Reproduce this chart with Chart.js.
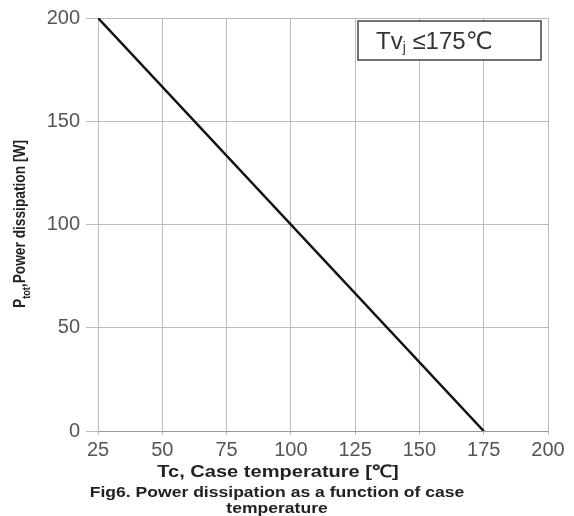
<!DOCTYPE html>
<html>
<head>
<meta charset="utf-8">
<script src="https://cdn.jsdelivr.net/npm/chart.js@4"></script>
<style>
  html, body { margin: 0; padding: 0; background: #fff; }
  #wrap { width: 574px; height: 516px; }
</style>
</head>
<body>
<div id="wrap"><canvas id="powerChart" width="574" height="516"></canvas></div>
<script>
// derating curve
const caseTemp = [25, 175];
const powerDiss = [200, 0];
const xTicks = [25, 50, 75, 100, 125, 150, 175, 200];
const yTicks = [0, 50, 100, 150, 200];

const yTitle = ['P', 'tot', ',Power dissipation [W]'];
const xTitle = 'Tc, Case temperature [\u2103]';
const caption = ['Fig6. Power dissipation as a function of case', 'temperature'];
const noteText = ['Tv', 'j', ' \u2264175\u2103'];

const tickFont = { family: 'Liberation Sans, Arial, sans-serif', size: 20 };

// fills text centred on cx, stretched sideways by sx
function wideText(ctx, txt, cx, y, sx) {
  ctx.save();
  ctx.translate(cx, y);
  ctx.scale(sx, 1);
  ctx.textAlign = 'center';
  ctx.fillText(txt, 0, 0);
  ctx.restore();
}

// draws the axis titles, the caption and the boxed note
const textPlugin = {
  id: 'textPlugin',
  afterDraw(chart) {
    const ctx = chart.ctx;
    ctx.save();

    // y title with subscript, rotated
    const big = 'bold 15px "Liberation Sans", sans-serif';
    const small = 'bold 10px "Liberation Sans", sans-serif';
    ctx.font = big;
    const w0 = ctx.measureText(yTitle[0]).width;
    const w2 = ctx.measureText(yTitle[2]).width;
    ctx.font = small;
    const w1 = ctx.measureText(yTitle[1]).width;
    const total = w0 + w1 + w2;
    const squeeze = 168 / total;
    ctx.translate(25, 224);
    ctx.rotate(-Math.PI / 2);
    ctx.scale(squeeze, 1.15);
    let x = -total / 2;
    ctx.fillStyle = '#222';
    ctx.textBaseline = 'alphabetic';
    ctx.font = big;
    ctx.fillText(yTitle[0], x, 0);
    x += w0;
    ctx.font = small;
    ctx.fillText(yTitle[1], x, 4);
    x += w1;
    ctx.font = big;
    ctx.fillText(yTitle[2], x, 0);
    ctx.restore();

    ctx.save();
    ctx.fillStyle = '#222';
    ctx.textBaseline = 'alphabetic';
    ctx.font = 'bold 17px "Liberation Sans", Arial, sans-serif';
    wideText(ctx, xTitle, 278, 477, 1.18);
    ctx.font = 'bold 15px "Liberation Sans", Arial, sans-serif';
    wideText(ctx, caption[0], 277, 497, 1.17);
    wideText(ctx, caption[1], 277, 513, 1.17);
    ctx.restore();

    // note box in top-right corner
    ctx.save();
    const bx = 358, by = 21, bw = 183, bh = 39;
    ctx.fillStyle = '#fff';
    ctx.fillRect(bx, by, bw, bh);
    ctx.strokeStyle = '#444';
    ctx.lineWidth = 1.5;
    ctx.strokeRect(bx, by, bw, bh);
    ctx.fillStyle = '#333';
    ctx.textBaseline = 'alphabetic';
    let tx = 376;
    ctx.font = '24px "Liberation Sans", Arial, sans-serif';
    ctx.fillText(noteText[0], tx, 49);
    tx += ctx.measureText(noteText[0]).width;
    ctx.font = '14px "Liberation Sans", Arial, sans-serif';
    ctx.fillText(noteText[1], tx, 52);
    tx += ctx.measureText(noteText[1]).width;
    ctx.font = '24px "Liberation Sans", "DejaVu Sans", sans-serif';
    ctx.fillText(noteText[2], tx, 49);
    ctx.restore();
  }
};

new Chart(document.getElementById('powerChart'), {
  type: 'scatter',
  data: {
    datasets: [{
      label: 'Ptot',
      data: caseTemp.map((t, i) => ({ x: t, y: powerDiss[i] })),
      showLine: true,
      borderColor: '#111',
      borderWidth: 2.5,
      pointRadius: 0,
      fill: false
    }]
  },
  options: {
    responsive: false,
    animation: false,
    layout: { padding: { top: 17, right: 26, left: 0, bottom: 0 } },
    plugins: { legend: { display: false }, tooltip: { enabled: false } },
    scales: {
      x: {
        type: 'linear',
        min: 25,
        max: 200,
        afterBuildTicks: s => { s.ticks = xTicks.map(v => ({ value: v })); },
        afterFit: s => { s.height = 85; },
        ticks: { color: '#555', font: tickFont, padding: 3, maxRotation: 0 },
        grid: { color: '#bbb', lineWidth: 1, tickLength: 4, drawTicks: true },
        border: { color: '#999', width: 1 }
      },
      y: {
        min: 0,
        max: 200,
        afterBuildTicks: s => { s.ticks = yTicks.map(v => ({ value: v })); },
        afterFit: s => { s.width = 98; },
        ticks: { color: '#555', font: tickFont, padding: 6 },
        grid: { color: '#bbb', lineWidth: 1, tickLength: 12 },
        border: { color: '#bbb', width: 1 }
      }
    }
  },
  plugins: [textPlugin]
});
</script>
</body>
</html>
